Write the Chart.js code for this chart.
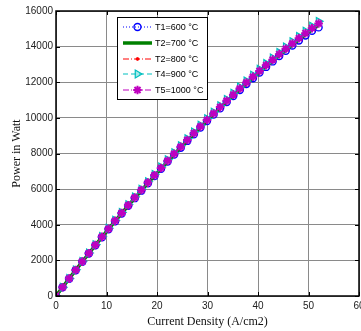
<!DOCTYPE html>
<html>
<head>
<meta charset="utf-8">
<script src="https://cdn.jsdelivr.net/npm/chart.js@4/dist/chart.umd.min.js"></script>
<style>
  html, body { margin: 0; padding: 0; background: #fff; }
  canvas { display: block; }
</style>
</head>
<body>
<canvas id="c" width="361" height="331"></canvas>
<script>
// Current density samples (A/cm2)
const currentDensity = [0, 1.3, 2.6, 3.9, 5.2, 6.5, 7.8, 9.1, 10.4, 11.7, 13.0, 14.3, 15.6, 16.9, 18.2, 19.5,
  20.8, 22.1, 23.4, 24.7, 26.0, 27.3, 28.6, 29.9, 31.2, 32.5, 33.8, 35.1, 36.4, 37.7, 39.0, 40.3,
  41.6, 42.9, 44.2, 45.5, 46.8, 48.1, 49.4, 50.7, 52.0];

// Output power (W) at each operating temperature
const powerT600 = [0, 489, 971, 1448, 1920, 2386, 2847, 3302, 3751, 4195, 4633, 5066, 5493, 5914, 6330, 6740,
  7145, 7544, 7937, 8325, 8707, 9084, 9456, 9821, 10181, 10536, 10885, 11228, 11566, 11898, 12225, 12546,
  12861, 13170, 13474, 13772, 14063, 14348, 14625, 14890, 15080];
const powerT700 = [0, 489, 972, 1449, 1921, 2388, 2849, 3304, 3754, 4198, 4637, 5070, 5498, 5920, 6336, 6747,
  7153, 7553, 7947, 8336, 8719, 9097, 9470, 9836, 10197, 10553, 10903, 11247, 11586, 11920, 12248, 12570,
  12887, 13198, 13504, 13804, 14099, 14388, 14671, 14949, 15220];
const powerT800 = [0, 490, 974, 1452, 1925, 2393, 2855, 3311, 3762, 4207, 4647, 5081, 5510, 5933, 6350, 6762,
  7169, 7570, 7965, 8355, 8739, 9118, 9491, 9859, 10221, 10578, 10929, 11275, 11615, 11950, 12279, 12603,
  12921, 13234, 13541, 13843, 14140, 14431, 14716, 14996, 15270];
const powerT900 = [0, 495, 985, 1468, 1946, 2418, 2885, 3346, 3801, 4251, 4695, 5133, 5566, 5993, 6415, 6831,
  7241, 7646, 8045, 8439, 8827, 9210, 9587, 9958, 10324, 10684, 11039, 11388, 11732, 12070, 12403, 12730,
  13052, 13368, 13679, 13984, 14284, 14578, 14867, 15150, 15420];
const powerT1000 = [0, 492, 978, 1458, 1932, 2401, 2864, 3321, 3773, 4219, 4660, 5095, 5525, 5949, 6367, 6780,
  7187, 7589, 7985, 8376, 8761, 9141, 9515, 9884, 10247, 10605, 10957, 11304, 11645, 11981, 12311, 12636,
  12955, 13269, 13577, 13880, 14177, 14469, 14755, 15035, 15300];

const seriesLabels = ['T1=600 °C', 'T2=700 °C', 'T2=800 °C', 'T4=900 °C', 'T5=1000 °C'];
const xTickValues = [0, 10, 20, 30, 40, 50, 60];
const yTickValues = [0, 2000, 4000, 6000, 8000, 10000, 12000, 14000, 16000];

const toPoints = ys => ys.map((y, i) => ({ x: currentDensity[i], y }));

const styles = [
  { color: '#0000ff', dash: [1, 2], width: 1, point: 'circle', radius: 3.5, pw: 1.4, fill: 'rgba(0,0,0,0)', rot: 0 },
  { color: '#008000', dash: [], width: 3.5, point: false, radius: 0, pw: 0, fill: '#008000', rot: 0 },
  { color: '#ff0000', dash: [6, 2, 1, 2], width: 1, point: 'circle', radius: 1.4, pw: 1, fill: '#ff0000', rot: 0 },
  { color: '#00bfbf', dash: [5, 3], width: 1, point: 'triangle', radius: 4.5, pw: 1.2, fill: 'rgba(0,191,191,0.35)', rot: 90 },
  { color: '#bf00bf', dash: [6, 2, 1, 2], width: 1, point: 'star', radius: 4.3, pw: 2, fill: '#bf00bf', rot: 0 }
];
const seriesValues = [powerT600, powerT700, powerT800, powerT900, powerT1000];

const datasets = seriesValues.map((vals, k) => {
  const s = styles[k];
  return {
    label: seriesLabels[k],
    data: toPoints(vals),
    borderColor: s.color,
    backgroundColor: s.fill,
    borderWidth: s.width,
    borderDash: s.dash,
    pointStyle: s.point,
    pointRadius: s.radius,
    pointBorderWidth: s.pw,
    pointBorderColor: s.color,
    pointBackgroundColor: s.fill,
    pointRotation: s.rot,
    tension: 0,
    fill: false,
    order: 4 - k
  };
});

// Let the plot box run almost to the right edge; the last x label may be cut
const widenPlugin = {
  id: 'widen',
  afterLayout(chart) {
    const x = chart.scales.x;
    const right = chart.width - 2;
    x.right = right;
    x.width = right - x.left;
    x.configure();
    chart.chartArea.right = right;
    chart.chartArea.width = right - chart.chartArea.left;
  }
};

// Box frame with inward tick marks, plus the boxed legend
const framePlugin = {
  id: 'frame',
  afterDraw(chart) {
    const { ctx, chartArea: a, scales: { x, y } } = chart;
    ctx.save();
    ctx.strokeStyle = '#000';
    ctx.lineWidth = 1.5;
    ctx.setLineDash([]);
    ctx.strokeRect(a.left, a.top, a.right - a.left, a.bottom - a.top);
    ctx.lineWidth = 1;
    const t = 4;
    ctx.beginPath();
    xTickValues.forEach(v => {
      const px = Math.round(x.getPixelForValue(v)) + 0.5;
      ctx.moveTo(px, a.bottom); ctx.lineTo(px, a.bottom - t);
      ctx.moveTo(px, a.top); ctx.lineTo(px, a.top + t);
    });
    yTickValues.forEach(v => {
      const py = Math.round(y.getPixelForValue(v)) + 0.5;
      ctx.moveTo(a.left, py); ctx.lineTo(a.left + t, py);
      ctx.moveTo(a.right, py); ctx.lineTo(a.right - t, py);
    });
    ctx.stroke();

    // legend
    const bx = 117, by = 17, bw = 90, bh = 82;
    ctx.fillStyle = '#fff';
    ctx.fillRect(bx, by, bw, bh);
    ctx.strokeStyle = '#000';
    ctx.lineWidth = 1;
    ctx.strokeRect(bx + 0.5, by + 0.5, bw, bh);
    const rowY = [27, 43, 59, 74, 90];
    chart.data.datasets.forEach((ds, k) => {
      const s = styles[k];
      const yy = rowY[k];
      ctx.save();
      ctx.strokeStyle = s.color;
      ctx.lineWidth = s.width;
      ctx.setLineDash(s.dash);
      ctx.beginPath();
      ctx.moveTo(123, yy); ctx.lineTo(152, yy);
      ctx.stroke();
      ctx.setLineDash([]);
      if (s.point) {
        ctx.fillStyle = s.fill;
        ctx.strokeStyle = s.color;
        ctx.lineWidth = s.pw;
        Chart.helpers.drawPoint(ctx, { pointStyle: s.point, radius: s.radius, rotation: s.rot, borderWidth: s.pw }, 137.5, yy);
      }
      ctx.restore();
      ctx.fillStyle = '#000';
      ctx.font = '9px "Liberation Sans", Arial, sans-serif';
      ctx.textBaseline = 'middle';
      ctx.textAlign = 'left';
      ctx.fillText(ds.label, 155, yy + 0.5);
    });
    ctx.restore();
  }
};

new Chart(document.getElementById('c'), {
  type: 'line',
  data: { datasets },
  options: {
    responsive: false,
    animation: false,
    events: [],
    layout: { padding: { top: 11, right: 2, left: 0, bottom: 0 } },
    plugins: { legend: { display: false }, tooltip: { enabled: false }, title: { display: false } },
    scales: {
      x: {
        type: 'linear',
        min: 0, max: 60,
        afterBuildTicks: s => { s.ticks = xTickValues.map(v => ({ value: v })); },
        afterFit: s => { s.height = 35; s.paddingLeft = 0; s.paddingRight = 0; },
        ticks: { color: '#222', font: { family: '"Liberation Sans", Arial', size: 10 }, padding: 4, maxRotation: 0, autoSkip: false, callback: v => String(v) },
        grid: { color: '#8a8a8a', lineWidth: 1, drawTicks: false },
        border: { display: false },
        title: { display: true, text: 'Current Density (A/cm2)', color: '#111', font: { family: '"Liberation Serif", "Times New Roman", serif', size: 12 }, padding: { top: 0, bottom: 2 } }
      },
      y: {
        min: 0, max: 16000,
        afterBuildTicks: s => { s.ticks = yTickValues.map(v => ({ value: v })); },
        afterFit: s => { s.width = 56; s.paddingTop = 0; s.paddingBottom = 0; },
        ticks: { color: '#222', font: { family: '"Liberation Sans", Arial', size: 10 }, padding: 3, autoSkip: false, callback: v => String(v) },
        grid: { color: '#8a8a8a', lineWidth: 1, drawTicks: false },
        border: { display: false },
        title: { display: true, text: 'Power in Watt', color: '#111', font: { family: '"Liberation Serif", "Times New Roman", serif', size: 12 }, padding: { top: 10, bottom: 0 } }
      }
    }
  },
  plugins: [widenPlugin, framePlugin]
});
</script>
</body>
</html>
